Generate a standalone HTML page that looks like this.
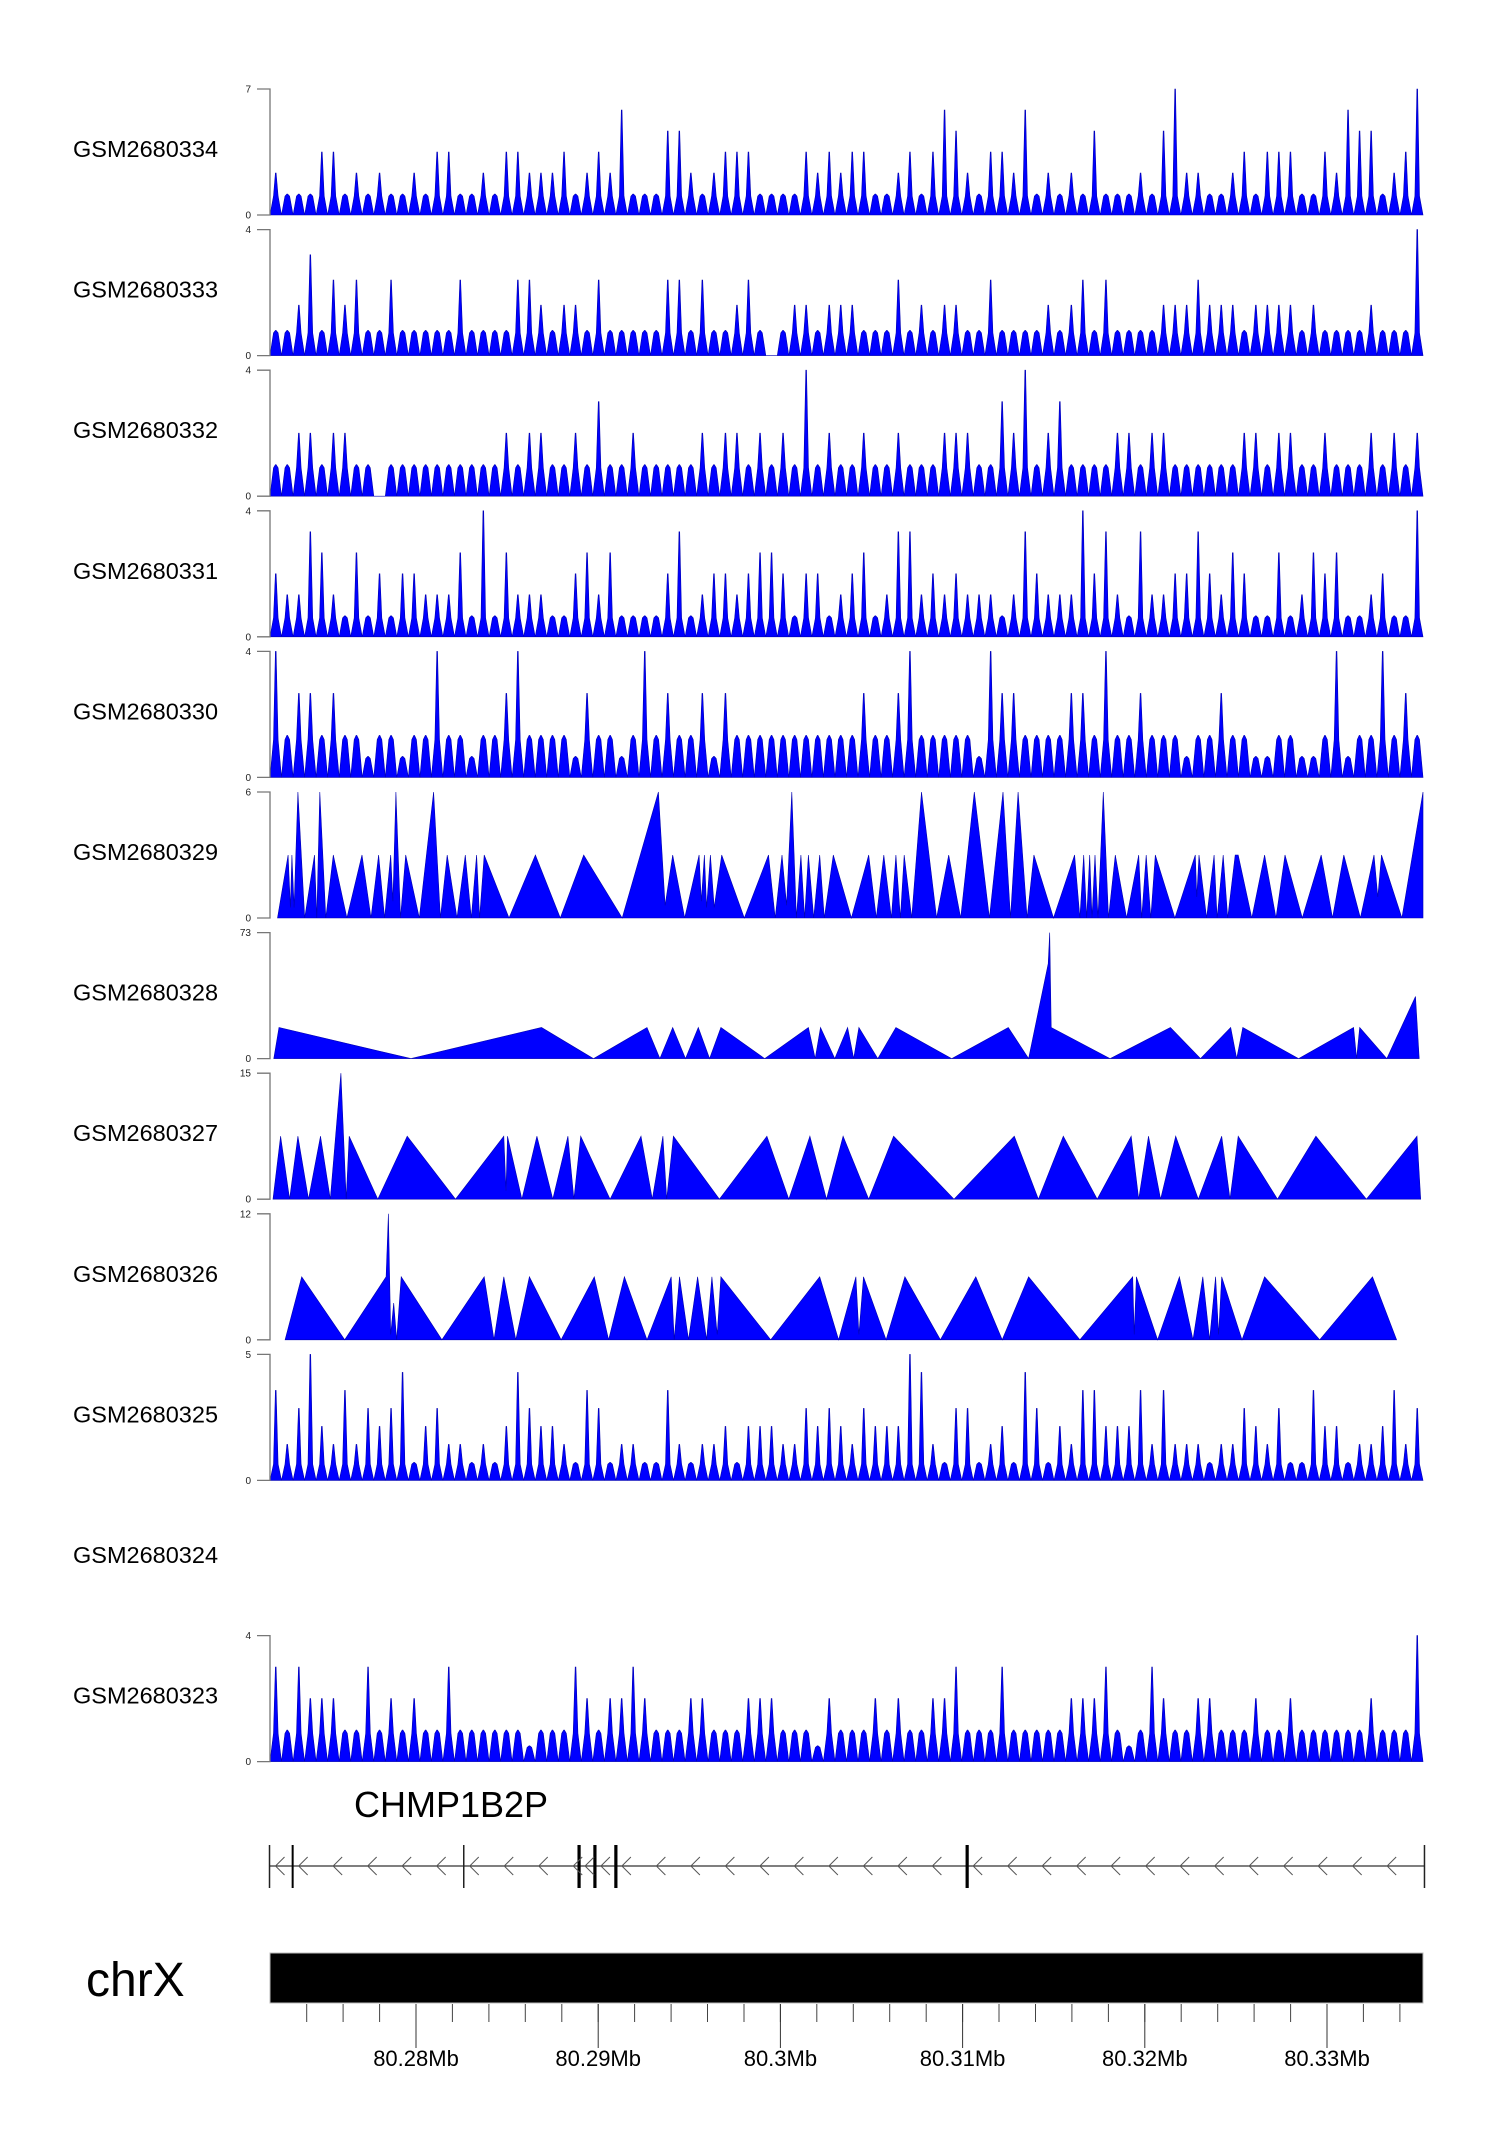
<!DOCTYPE html>
<html><head><meta charset="utf-8">
<style>
html,body{margin:0;padding:0;background:#fff;}
svg{display:block;}
text{font-family:"Liberation Sans",Arial,sans-serif;}
</style></head>
<body>
<svg id="chart" width="1500" height="2140" viewBox="0 0 1500 2140" xmlns="http://www.w3.org/2000/svg"></svg>
<script>
// ---------- data ----------
const sampleNames = ["GSM2680334","GSM2680333","GSM2680332","GSM2680331","GSM2680330","GSM2680329","GSM2680328","GSM2680327","GSM2680326","GSM2680325","GSM2680324","GSM2680323"];
const axisMaxLabels = ["7","4","4","4","4","6","73","15","12","5","","4"];
// dense tracks: binned coverage levels (100 genomic bins across the window)
const t334 = [2,1,1,1,3,3,1,2,1,2, 1,1,2,1,3,3,1,1,2,1, 3,3,2,2,2,3,1,2,3,2, 5,1,1,1,4,4,2,1,2,3, 3,3,1,1,1,1,3,2,3,2, 3,3,1,1,2,3,1,3,5,4, 2,1,3,3,2,5,1,2,1,2, 1,4,1,1,1,2,1,4,6,2, 2,1,1,2,3,1,3,3,3,1, 1,3,2,5,4,4,1,2,3,6];
const t333 = [1,1,2,4,1,3,2,3,1,1, 3,1,1,1,1,1,3,1,1,1, 1,3,3,2,1,2,2,1,3,1, 1,1,1,1,3,3,1,3,1,1, 2,3,1,0,1,2,2,1,2,2, 2,1,1,1,3,1,2,1,2,2, 1,1,3,1,1,1,1,2,1,2, 3,1,3,1,1,1,1,2,2,2, 3,2,2,2,1,2,2,2,2,1, 2,1,1,1,1,2,1,1,1,5];
const t332 = [1,1,2,2,1,2,2,1,1,0, 1,1,1,1,1,1,1,1,1,1, 2,1,2,2,1,1,2,1,3,1, 1,2,1,1,1,1,1,2,1,2, 2,1,2,1,2,1,4,1,2,1, 1,2,1,1,2,1,1,1,2,2, 2,1,1,3,2,4,1,2,3,1, 1,1,1,2,2,1,2,2,1,1, 1,1,1,1,2,2,1,2,2,1, 1,2,1,1,1,2,1,2,1,2];
const t331 = [3,2,2,5,4,2,1,4,1,3, 1,3,3,2,2,2,4,1,6,1, 4,2,2,2,1,1,3,4,2,4, 1,1,1,1,3,5,1,2,3,3, 2,3,4,4,3,1,3,3,1,2, 3,4,1,2,5,5,2,3,2,3, 2,2,2,1,2,5,3,2,2,2, 6,3,5,2,1,5,2,2,3,3, 5,3,2,4,3,1,1,4,1,2, 4,3,4,1,1,2,3,1,1,6];
const t330 = [3,1,2,2,1,2,1,1,0.5,1, 1,0.5,1,1,3,1,1,0.5,1,1, 2,3,1,1,1,1,0.5,2,1,1, 0.5,1,3,1,2,1,1,2,0.5,2, 1,1,1,1,1,1,1,1,1,1, 1,2,1,1,2,3,1,1,1,1, 1,0.5,3,2,2,1,1,1,1,2, 2,1,3,1,1,2,1,1,1,0.5, 1,1,2,1,1,0.5,0.5,1,1,0.5, 0.5,1,3,0.5,1,1,3,1,2,1];
const t325 = [5,2,4,7,3,2,5,2,4,3, 4,6,1,3,4,2,2,1,2,1, 3,6,4,3,3,2,1,5,4,1, 2,2,1,1,5,2,1,2,2,3, 1,3,3,3,2,2,4,3,4,3, 2,4,3,3,3,7,6,2,1,4, 4,1,2,3,1,6,4,1,3,2, 5,5,3,3,3,5,2,5,2,2, 2,1,2,2,4,3,2,4,1,1, 5,3,3,1,2,2,3,5,2,4];
const t323 = [3,1,3,2,2,2,1,1,3,1, 2,1,2,1,1,3,1,1,1,1, 1,1,0.5,1,1,1,3,2,1,2, 2,3,2,1,1,1,2,2,1,1, 1,2,2,2,1,1,1,0.5,2,1, 1,1,2,1,2,1,1,2,2,3, 1,1,1,3,1,1,1,1,1,2, 2,2,3,1,0.5,1,3,2,1,1, 2,2,1,1,1,2,1,1,2,1, 1,1,1,1,1,2,1,1,1,4];
const denseMaxLevel = {0:6,1:5,2:4,3:6,4:3,9:7,11:4};
// sparse tracks: [genomic bin, value] with bins from BIN_START to BIN_END
const BIN_START = 16, BIN_END = 1545;
const t329 = [[26,0],[40,3],[43,0.5],[45,3],[48,0.5],[53,6],[62,0],[75,3],[78,0],[82,6],[90,0],[100,3],[118,0],[138,3],[150,0],[160,3],[168,0],[176,3],[179,0.8],[183,6],[189,0],[196,3],[214,0],[233,6],[242,0],[251,3],[264,0],[275,3],[283,0],[290,3],[294,0],[300,3],[333,0],[368,3],[401,0],[432,3],[483,0],[531,6],[540,0.6],[550,3],[566,0],[585,3],[588,0.8],[592,3],[595,0.5],[600,3],[605,0.5],[615,3],[645,0],[677,3],[686,0],[695,3],[701,0.6],[708,6],[714,0],[720,3],[725,0],[730,3],[737,0],[745,3],[751,0],[763,3],[787,0],[810,3],[820,0],[830,3],[840,0],[846,3],[852,0],[857,3],[867,0],[880,6],[900,0],[916,3],[932,0],[950,6],[970,0],[988,6],[998,0],[1008,6],[1020,0],[1029,3],[1055,0],[1083,3],[1090,0],[1095,3],[1099,0],[1103,3],[1106,0],[1110,3],[1114,0],[1121,6],[1128,0],[1137,3],[1152,0],[1168,3],[1172,0],[1178,3],[1184,0],[1190,3],[1216,0],[1243,3],[1245,1],[1248,3],[1258,0],[1268,3],[1272,0],[1280,3],[1286,0],[1296,3],[1300,3],[1318,0],[1335,3],[1350,0],[1362,3],[1385,0],[1410,3],[1425,0],[1440,3],[1462,0],[1480,3],[1485,1],[1490,3],[1517,0],[1545,6]];
const t328 = [[21,0],[28,18],[203,0],[376,18],[445,0],[516,18],[533,0],[550,18],[567,0],[584,18],[599,0],[614,18],[672,0],[730,18],[739,0],[746,18],[765,0],[782,18],[790,0],[797,18],[822,0],[846,18],[920,0],[995,18],[1022,0],[1048,55],[1050,73],[1052,18],[1130,0],[1210,18],[1250,0],[1290,18],[1298,0],[1306,18],[1380,0],[1453,18],[1457,0],[1461,18],[1497,0],[1535,36],[1540,0]];
const t327 = [[20,0],[30,7.5],[42,0],[53,7.5],[67,0],[83,7.5],[96,0],[110,15],[117,0],[121,7.5],[159,0],[198,7.5],[262,0],[326,7.5],[329,1],[331,7.5],[350,0],[370,7.5],[391,0],[411,7.5],[419,0],[428,7.5],[467,0],[508,7.5],[523,0],[537,7.5],[542,0],[551,7.5],[612,0],[675,7.5],[704,0],[732,7.5],[754,0],[776,7.5],[810,0],[843,7.5],[923,0],[1003,7.5],[1035,0],[1068,7.5],[1113,0],[1158,7.5],[1168,0],[1181,7.5],[1197,0],[1217,7.5],[1247,0],[1278,7.5],[1289,0],[1300,7.5],[1352,0],[1403,7.5],[1470,0],[1537,7.5],[1542,0]];
const t326 = [[36,0],[58,6],[115,0],[170,6],[173,12],[176,0.5],[180,3.5],[184,0],[190,6],[244,0],[300,6],[313,0],[326,6],[342,0],[360,6],[402,0],[446,6],[465,0],[486,6],[516,0],[548,6],[552,0],[559,6],[571,0],[583,6],[595,0],[602,6],[609,0.5],[614,6],[680,0],[745,6],[770,0],[793,6],[797,0.5],[803,6],[833,0],[858,6],[905,0],[952,6],[987,0],[1022,6],[1090,0],[1160,6],[1162,0.5],[1165,6],[1193,0],[1222,6],[1240,0],[1253,6],[1262,0],[1270,6],[1274,0.5],[1278,6],[1305,0],[1335,6],[1408,0],[1478,6],[1510,0]];
const sparseMax = {5:6,6:73,7:15,8:12};
// gene model (Mb)
const geneBoundaries = [80.27196, 80.28262, 80.33535];
const exonsMb = [80.27323, 80.28895, 80.28982, 80.29097, 80.31025];
const majorTicksMb = [80.28, 80.29, 80.30, 80.31, 80.32, 80.33];
const majorTickLabels = ["80.28Mb","80.29Mb","80.3Mb","80.31Mb","80.32Mb","80.33Mb"];

// ---------- layout ----------
const svg = document.getElementById('chart');
const NS = 'http://www.w3.org/2000/svg';
const X0 = 270, X1 = 1423, TOP0 = 89, PITCH = 140.6, TH = 126;
function mk(tag, attrs, parent){const e=document.createElementNS(NS,tag);for(const k in attrs)e.setAttribute(k,attrs[k]);(parent||svg).appendChild(e);return e;}
const xBin = b => X0 + (b - BIN_START) / (BIN_END - BIN_START) * (X1 - X0);
const xMb = m => 416 + (m - 80.28) * 18220;

const dense = {0:t334,1:t333,2:t332,3:t331,4:t330,9:t325,11:t323};
const sparse = {5:t329,6:t328,7:t327,8:t326};

sampleNames.forEach((name, i) => {
  const top = TOP0 + i * PITCH, base = top + TH;
  const g = mk('g', {});
  
  
  const lab = mk('text', {x:73, y:top + 68, 'font-size':23.5, fill:'#000'}, g);
  lab.textContent = name;
  
  
  if (axisMaxLabels[i] === '') return;
  const yScale = v => base - v * TH;
  let pts = [];
  if (dense[i]) {
    const arr = dense[i], ml = denseMaxLevel[i], n = arr.length, w = (X1 - X0) / n;
    pts.push([X0, base]);
    arr.forEach((v, k) => {
      const f = v / ml, lo = Math.min(f, 1 / ml) * 0.9;
      const xs = X0 + k * w;
      pts.push([xs, base + 0], [xs + w * 0.3, yScale(lo)], [xs + w * 0.47, yScale(f)], [xs + w * 0.53, yScale(f)], [xs + w * 0.7, yScale(lo)], [xs + w, base]);
    });
    pts.push([X1, base]);
  } else {
    const arr = sparse[i], mx = sparseMax[i];
    pts.push([xBin(arr[0][0]), base]);
    arr.forEach(p => pts.push([xBin(p[0]), yScale(p[1] / mx)]));
    pts.push([xBin(arr[arr.length - 1][0]), base]);
  }
  const poly = mk('polygon', {points: pts.map(p => p[0].toFixed(1) + ',' + p[1].toFixed(1)).join(' '), fill:'#0000ff', stroke:'#0000b0', 'stroke-width':0.6}, g);
  
  
  const ax = mk('path', {d:`M257,${top}H270V${base}H257`, fill:'none', stroke:'#777', 'stroke-width':1.3}, g);
  
  
  const tmax = mk('text', {x:251, y:top + 3.5, 'font-size':10, 'text-anchor':'end', fill:'#222'}, g);
  tmax.textContent = axisMaxLabels[i];
  
  
  const tmin = mk('text', {x:251, y:base + 3.5, 'font-size':10, 'text-anchor':'end', fill:'#222'}, g);
  tmin.textContent = '0';
  
  
});

// gene track
const gg = mk('g', {});


const gname = mk('text', {x:354, y:1817, 'font-size':36, fill:'#000'}, gg);
gname.textContent = 'CHMP1B2P';


const LY = 1866;
const gl = mk('line', {x1:xMb(geneBoundaries[0]), x2:xMb(geneBoundaries[2]), y1:LY, y2:LY, stroke:'#333', 'stroke-width':1.3}, gg);


geneBoundaries.forEach(m => {
  const b = mk('line', {x1:xMb(m), x2:xMb(m), y1:1845, y2:1888, stroke:'#222', 'stroke-width':1.5}, gg);
  
  
});
exonsMb.forEach((m, k) => {
  const b = mk('line', {x1:xMb(m), x2:xMb(m), y1:1845, y2:1888, stroke:'#000', 'stroke-width':k === 0 ? 2 : 3.2}, gg);
  
  
});
const cuts = [...geneBoundaries, ...exonsMb].map(xMb).sort((a, b) => a - b);
let chev = '';
for (let k = 0; k < cuts.length - 1; k++) {
  for (let x = cuts[k] + 6; x + 3 < cuts[k + 1]; x += 34.5) chev += `M${x + 9},${LY - 9}L${x},${LY}L${x + 9},${LY + 9}`;
}
const ch = mk('path', {d:chev, fill:'none', stroke:'#555', 'stroke-width':1}, gg);



// ideogram / axis
const ag = mk('g', {});


const chr = mk('text', {x:86, y:1996, 'font-size':48, fill:'#000'}, ag);
chr.textContent = 'chrX';


const bar = mk('rect', {x:X0, y:1953, width:X1 - X0, height:50, fill:'#000', stroke:'#bbb', 'stroke-width':1}, ag);


let minor = '';
for (let m = 80.274; m < 80.3352; m += 0.002) minor += `M${xMb(m).toFixed(1)},2004V2022`;
const mn = mk('path', {d:minor, stroke:'#444', 'stroke-width':1}, ag);


majorTicksMb.forEach((m, k) => {
  const t = mk('line', {x1:xMb(m), x2:xMb(m), y1:2004, y2:2048, stroke:'#333', 'stroke-width':1}, ag);
  
  
  const l = mk('text', {x:xMb(m), y:2066, 'font-size':22, 'text-anchor':'middle', fill:'#000'}, ag);
  l.textContent = majorTickLabels[k];
  
  
});
</script>
</body></html>
